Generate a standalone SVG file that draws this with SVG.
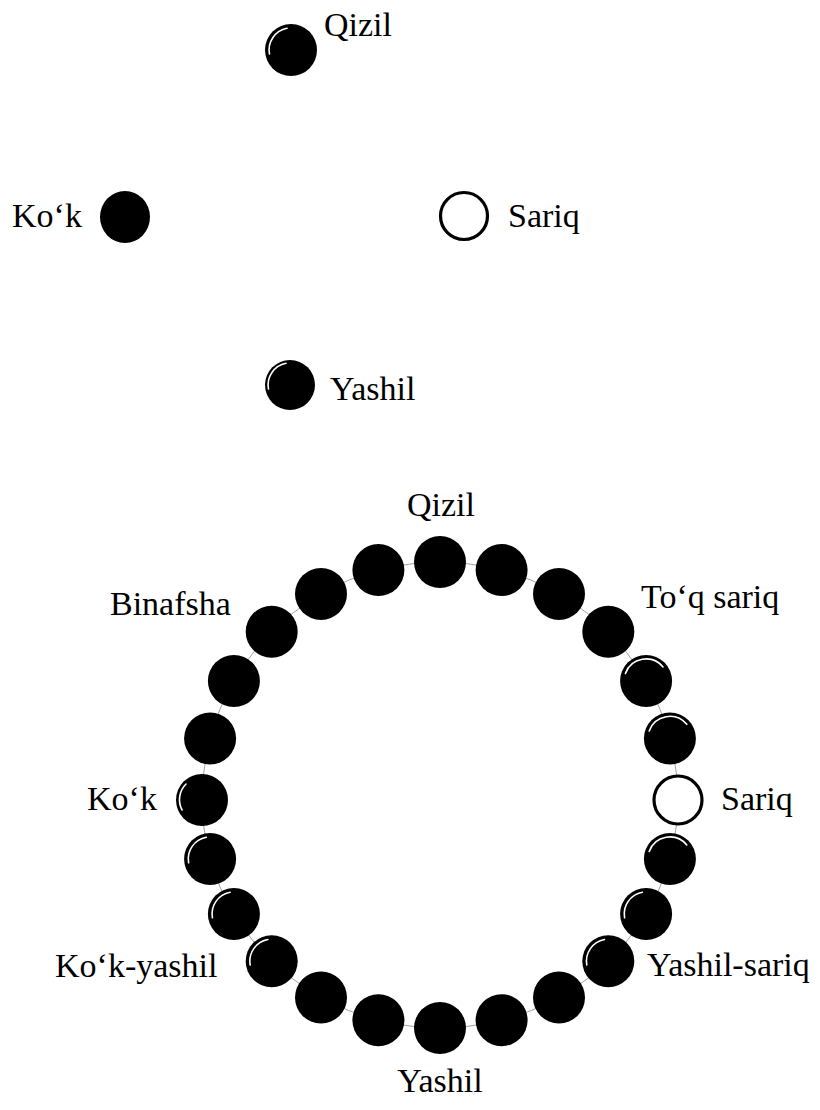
<svg xmlns="http://www.w3.org/2000/svg" width="820" height="1110" viewBox="0 0 820 1110">
<style>
.lbl{font-family:"Liberation Serif","Times New Roman",serif;font-size:34px;fill:#000}
.mid{text-anchor:middle}
.bead{fill:#000}
.open{fill:#fff;stroke:#000;stroke-width:3.2}
.hl{fill:none;stroke:#fff;stroke-width:1.6;stroke-linecap:round}
.thread{fill:none;stroke:#777;stroke-width:0.7}
</style>
<rect width="820" height="1110" fill="#fff"/>
<g id="top-qizil"><circle class="bead" cx="291" cy="50" r="26"/><path class="hl" d="M269.5,54 A22,22 0 0 1 287,28.3"/><text class="lbl" x="324" y="36">Qizil</text></g>
<g id="top-kok"><ellipse class="bead" cx="125" cy="217" rx="25" ry="26"/><text class="lbl" x="12" y="227">Ko‘k</text></g>
<g id="top-sariq"><circle class="open" cx="464" cy="216" r="23.5"/><text class="lbl" x="508" y="227">Sariq</text></g>
<g id="top-yashil"><circle class="bead" cx="290" cy="385" r="25"/><path class="hl" d="M268.5,389 A22,22 0 0 1 286,363.3"/><text class="lbl" x="330" y="400">Yashil</text></g>
<g id="connectors"><path class="thread" d="M202,800 A238,238 0 0 1 678,800 A238,228 0 0 1 202,800"/></g>
<g id="ring">
<g id="r00"><circle class="bead" cx="440" cy="562" r="26"/><text class="lbl mid" x="441" y="516">Qizil</text></g>
<g id="r01"><circle class="bead" cx="501.6" cy="570.1" r="26"/></g>
<g id="r02"><circle class="bead" cx="559" cy="593.9" r="26"/></g>
<g id="r03"><circle class="bead" cx="608.3" cy="631.7" r="26"/><text class="lbl" x="641" y="608">To‘q sariq</text></g>
<g id="r04"><circle class="bead" cx="646.1" cy="681" r="26"/><path class="hl" d="M625.4,673.5 A22,22 0 0 1 663,666.9"/></g>
<g id="r05"><circle class="bead" cx="669.9" cy="738.4" r="26"/><path class="hl" d="M649.2,730.9 A22,22 0 0 1 686.8,724.3"/></g>
<g id="r06"><circle class="open" cx="678" cy="800" r="24"/><text class="lbl" x="721" y="810">Sariq</text></g>
<g id="r07"><circle class="bead" cx="669.9" cy="859" r="26"/><path class="hl" d="M649.2,851.5 A22,22 0 0 1 686.8,844.9"/></g>
<g id="r08"><circle class="bead" cx="646.1" cy="914" r="26"/><path class="hl" d="M624.6,917.8 A22,22 0 0 1 642.3,892.3"/></g>
<g id="r09"><circle class="bead" cx="608.3" cy="961.2" r="26"/><path class="hl" d="M586.8,965 A22,22 0 0 1 604.5,939.5"/><text class="lbl" x="647" y="976">Yashil-sariq</text></g>
<g id="r10"><circle class="bead" cx="559" cy="997.5" r="26"/></g>
<g id="r11"><circle class="bead" cx="501.6" cy="1020.2" r="26"/></g>
<g id="r12"><circle class="bead" cx="440" cy="1028" r="26"/><text class="lbl mid" x="440" y="1092">Yashil</text></g>
<g id="r13"><circle class="bead" cx="378.4" cy="1020.2" r="26"/></g>
<g id="r14"><circle class="bead" cx="321" cy="997.5" r="26"/></g>
<g id="r15"><circle class="bead" cx="271.7" cy="961.2" r="26"/><path class="hl" d="M250.2,965 A22,22 0 0 1 267.9,939.5"/><text class="lbl" x="55" y="977">Ko‘k-yashil</text></g>
<g id="r16"><circle class="bead" cx="233.9" cy="914" r="26"/><path class="hl" d="M212.4,917.8 A22,22 0 0 1 230.1,892.3"/></g>
<g id="r17"><circle class="bead" cx="210.1" cy="859" r="26"/><path class="hl" d="M188.6,862.8 A22,22 0 0 1 206.3,837.3"/></g>
<g id="r18"><circle class="bead" cx="202" cy="800" r="26"/><path class="hl" d="M182.1,810 A22,22 0 0 1 186,784"/><text class="lbl" x="87" y="810">Ko‘k</text></g>
<g id="r19"><circle class="bead" cx="210.1" cy="738.4" r="26"/></g>
<g id="r20"><circle class="bead" cx="233.9" cy="681" r="26"/></g>
<g id="r21"><circle class="bead" cx="271.7" cy="631.7" r="26"/><text class="lbl" x="110" y="615">Binafsha</text></g>
<g id="r22"><circle class="bead" cx="321" cy="593.9" r="26"/></g>
<g id="r23"><circle class="bead" cx="378.4" cy="570.1" r="26"/></g>
</g>
</svg>
